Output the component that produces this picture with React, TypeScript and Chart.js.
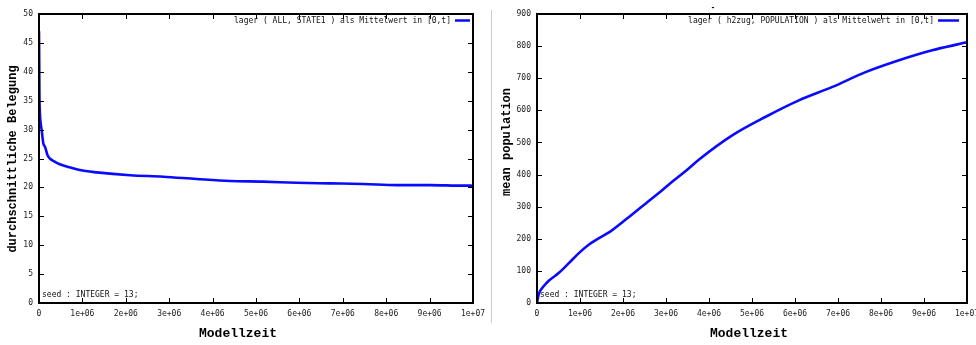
import React, { useEffect, useRef } from 'react';
import { Chart, registerables } from 'chart.js';

Chart.register(...registerables);

// ---- data ----
const xTickValues = [0, 1e6, 2e6, 3e6, 4e6, 5e6, 6e6, 7e6, 8e6, 9e6, 1e7];
const xTickLabels = ['0', '1e+06', '2e+06', '3e+06', '4e+06', '5e+06', '6e+06', '7e+06', '8e+06', '9e+06', '1e+07'];

const belegungLabel = 'lager ( ALL, STATE1 ) als Mittelwert in [0,t]';
const belegungX = [0, 5000, 10000, 20000, 40000, 60000, 100000, 140000, 200000, 250000, 350000, 480000, 700000, 940000, 1330000, 2100000, 2860000, 3630000, 4400000, 5160000, 5940000, 6700000, 7470000, 8250000, 9000000, 9770000, 9950000, 10000000];
const belegungY = [47, 42, 36, 33, 31, 30, 27.6, 27, 25.5, 25, 24.5, 24.0, 23.5, 23.0, 22.6, 22.1, 21.85, 21.45, 21.1, 21.0, 20.8, 20.7, 20.6, 20.4, 20.4, 20.3, 20.3, 20.0];

const populationLabel = 'lager ( h2zug, POPULATION ) als Mittelwert in [0,t]';
const populationX = [0, 20000, 47000, 85000, 180000, 280000, 510000, 740000, 980000, 1210000, 1750000, 2140000, 2530000, 2910000, 3150000, 3500000, 3770000, 4540000, 5320000, 6090000, 6870000, 7640000, 8420000, 9190000, 9970000, 10000000];
const populationY = [0, 15, 30, 40, 56, 70, 94, 124, 156, 182, 227, 268, 310, 351, 378, 416, 447, 522, 580, 631, 673, 719, 756, 787, 811, 812];

const noteText = 'seed : INTEGER = 13;';
const xTitleText = 'Modellzeit';
const leftYTitle = 'durchschnittliche Belegung';
const rightYTitle = 'mean population';

const SMALL_FAMILY = "'DejaVu Sans Mono', monospace";
const TICK_FONT = { family: SMALL_FAMILY, size: 8 };

function smallText(ctx: any, text: string, x: number, y: number, align: 'left' | 'right') {
  // slightly condensed 9px monospace, like the gnuplot bitmap font
  ctx.save();
  ctx.font = `9px ${SMALL_FAMILY}`;
  ctx.textBaseline = 'middle';
  ctx.textAlign = align;
  ctx.translate(x, y);
  ctx.scale(0.89, 1);
  ctx.fillText(text, 0, 0);
  ctx.restore();
}

const decorPlugin = {
  id: 'decor',
  afterDraw(chart: any, _args: any, opts: any) {
    const { ctx, chartArea: a, scales } = chart;
    const xs = scales.x;
    const ys = scales.y;
    ctx.save();
    // inward ticks on all four sides
    ctx.strokeStyle = '#000';
    ctx.lineWidth = 1;
    ctx.beginPath();
    xs.ticks.forEach((t: any) => {
      const px = Math.round(xs.getPixelForValue(t.value)) + 0.5;
      ctx.moveTo(px, a.bottom);
      ctx.lineTo(px, a.bottom - 5);
      ctx.moveTo(px, a.top);
      ctx.lineTo(px, a.top + 5);
    });
    ys.ticks.forEach((t: any) => {
      const py = Math.round(ys.getPixelForValue(t.value)) + 0.5;
      ctx.moveTo(a.left, py);
      ctx.lineTo(a.left + 5, py);
      ctx.moveTo(a.right, py);
      ctx.lineTo(a.right - 5, py);
    });
    ctx.stroke();
    // border
    ctx.lineWidth = 2;
    ctx.strokeRect(a.left, a.top, a.right - a.left, a.bottom - a.top);

    // legend
    const ds = chart.data.datasets[0];
    const lineRight = a.right - opts.legendGap;
    const lineLeft = lineRight - opts.legendLen;
    const ly = a.top + 6.5;
    ctx.strokeStyle = ds.borderColor;
    ctx.lineWidth = 2.5;
    ctx.beginPath();
    ctx.moveTo(lineLeft, ly);
    ctx.lineTo(lineRight, ly);
    ctx.stroke();
    ctx.fillStyle = '#111';
    smallText(ctx, ds.label, lineLeft - 4, ly, 'right');

    // note
    smallText(ctx, opts.note, a.left + 3, a.bottom - 8, 'left');

    // axis titles
    ctx.fillStyle = '#000';
    ctx.font = "bold 13px 'Liberation Mono', monospace";
    ctx.textAlign = 'center';
    ctx.textBaseline = 'middle';
    ctx.fillText(opts.xTitle, opts.xTitleX, 334);
    ctx.font = "bold 12px 'Liberation Mono', monospace";
    ctx.translate(opts.yTitleX, opts.yTitleY);
    ctx.rotate(-Math.PI / 2);
    ctx.fillText(opts.yTitle, 0, 0);
    ctx.restore();
    if (opts.mark) {
      ctx.save();
      ctx.fillStyle = '#000';
      ctx.font = "bold 9px 'Liberation Sans', sans-serif";
      ctx.textAlign = 'center';
      ctx.textBaseline = 'middle';
      ctx.fillText(opts.mark, opts.markX, 8);
      ctx.restore();
    }
  },
};

function buildConfig(p: any): any {
  return {
    type: 'line',
    data: {
      datasets: [
        {
          label: p.label,
          data: p.xs.map((x: number, i: number) => ({ x, y: p.ys[i] })),
          borderColor: '#0a0aff',
          backgroundColor: '#0a0aff',
          borderWidth: 2.6,
          pointRadius: 0,
          cubicInterpolationMode: 'monotone',
          fill: false,
        },
      ],
    },
    options: {
      responsive: false,
      animation: false,
      events: [],
      layout: { padding: { left: 0, top: 14, right: p.width - p.plotRight, bottom: 0 } },
      plugins: {
        legend: { display: false },
        tooltip: { enabled: false },
        decor: {
          note: noteText,
          xTitle: xTitleText,
          xTitleX: p.xTitleX,
          yTitle: p.yTitle,
          yTitleX: p.yTitleX,
          yTitleY: p.yTitleY,
          mark: p.mark,
          markX: p.markX,
          legendGap: p.legendGap,
          legendLen: p.legendLen,
        },
      },
      scales: {
        x: {
          type: 'linear',
          min: 0,
          max: 1e7,
          afterBuildTicks: (s: any) => {
            s.ticks = xTickValues.map((v) => ({ value: v }));
          },
          ticks: {
            autoSkip: false,
            maxRotation: 0,
            padding: 6,
            color: '#222',
            font: TICK_FONT,
            callback: (v: number) => {
              const i = xTickValues.findIndex((t) => Math.abs(t - v) < 1);
              return i >= 0 ? xTickLabels[i] : '';
            },
          },
          grid: { display: false, drawTicks: false },
          border: { display: false },
          afterFit: (s: any) => {
            s.height = 42;
            s.paddingLeft = 0;
            s.paddingRight = 0;
          },
        },
        y: {
          type: 'linear',
          min: 0,
          max: p.yMax,
          ticks: { stepSize: p.yStep, padding: p.yPad, color: '#222', font: TICK_FONT },
          grid: { display: false, drawTicks: false },
          border: { display: false },
          afterFit: (s: any) => {
            s.width = p.plotLeft;
            s.paddingTop = 0;
            s.paddingBottom = 0;
          },
        },
      },
    },
    plugins: [decorPlugin],
  };
}

export default function App() {
  const leftRef = useRef<HTMLCanvasElement>(null);
  const rightRef = useRef<HTMLCanvasElement>(null);

  useEffect(() => {
    const c1 = new Chart(
      leftRef.current as HTMLCanvasElement,
      buildConfig({
        label: belegungLabel,
        xs: belegungX,
        ys: belegungY,
        width: 488,
        plotLeft: 39,
        plotRight: 473,
        yMax: 50,
        yStep: 5,
        yPad: 6,
        yTitle: leftYTitle,
        yTitleX: 13,
        yTitleY: 159,
        xTitleX: 238,
        legendGap: 3,
        legendLen: 15,
      })
    );
    const c2 = new Chart(
      rightRef.current as HTMLCanvasElement,
      buildConfig({
        label: populationLabel,
        xs: populationX,
        ys: populationY,
        width: 482,
        plotLeft: 43,
        plotRight: 473,
        yMax: 900,
        yStep: 100,
        yPad: 6,
        yTitle: rightYTitle,
        yTitleX: 13,
        yTitleY: 142,
        xTitleX: 255,
        mark: '-',
        markX: 219,
        legendGap: 8,
        legendLen: 21,
      })
    );
    return () => {
      c1.destroy();
      c2.destroy();
    };
  }, []);

  return (
    <div style={{ position: 'fixed', left: 0, top: 0, width: 976, height: 345, background: '#fff', overflow: 'hidden' }}>
      <canvas ref={leftRef} width={488} height={345} style={{ position: 'absolute', left: 0, top: 0 }} />
      <div style={{ position: 'absolute', left: 491, top: 10, width: 1, height: 313, background: '#c6cbd3' }} />
      <canvas ref={rightRef} width={482} height={345} style={{ position: 'absolute', left: 494, top: 0 }} />
    </div>
  );
}
